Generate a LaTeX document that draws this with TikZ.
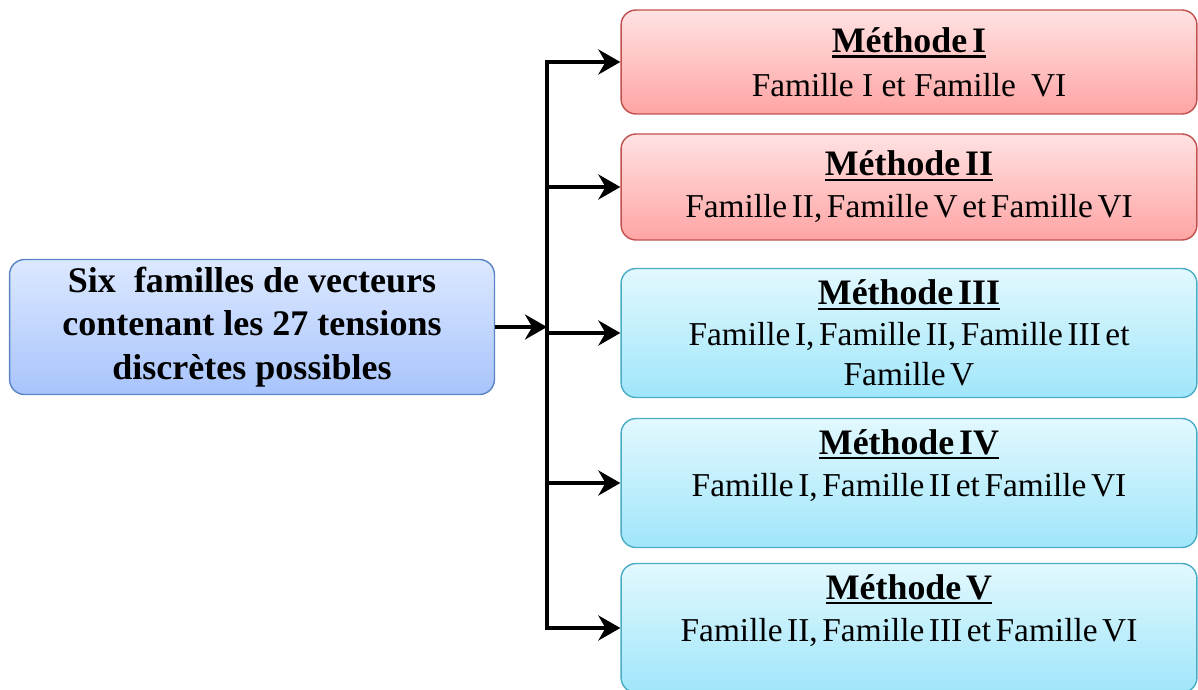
\documentclass[tikz,border=0pt]{standalone}
\usepackage{fontspec}
\setmainfont{Liberation Serif}
\newfontfamily\bodyfont{Liberation Serif}[WordSpace=0.55]
\usetikzlibrary{arrows.meta, arrows}

\definecolor{redtop}{HTML}{FFE2E2}
\definecolor{redbot}{HTML}{FFA4A4}
\definecolor{redline}{HTML}{C0504D}
\definecolor{cyantop}{HTML}{E2F8FE}
\definecolor{cyanbot}{HTML}{A0E6FA}
\definecolor{cyanline}{HTML}{4BACC6}
\definecolor{bluetop}{HTML}{DCE8FF}
\definecolor{bluebot}{HTML}{A8C4FC}
\definecolor{blueline}{HTML}{5B84C4}

\tikzset{
  box/.style={draw, rounded corners=0.3cm, align=center, line width=0.8pt, inner sep=2pt, font=\bodyfont\fontsize{19}{23}\selectfont},
  redbox/.style={box, draw=redline, top color=redtop, bottom color=redbot, minimum width=11.52cm},
  cyanbox/.style={box, draw=cyanline, top color=cyantop, bottom color=cyanbot, minimum width=11.52cm, minimum height=2.58cm},
  srcbox/.style={box, draw=blueline, top color=bluetop, bottom color=bluebot, minimum width=9.7cm, minimum height=2.7cm, font=\fontsize{20.5}{24.7}\selectfont\bfseries},
  link/.style={line width=2.3pt, -{Stealth[length=0.44cm, width=0.5cm]}}
}
\newcommand{\meth}[1]{{\fontsize{20.4}{23}\selectfont\bfseries\setbox0=\hbox{#1}\rlap{\rule[-3pt]{\wd0}{1.4pt}}\box0}}

\begin{document}
\begin{tikzpicture}[x=0.02cm, y=-0.02cm]
    \useasboundingbox (0,0) rectangle (1198,690);
    \node[srcbox] (src) at (252,327) {Six \ familles de vecteurs\\contenant les 27 tensions\\discrètes possibles};
    \node[redbox, minimum height=2.08cm] (m1) at (909,62) {\meth{Méthode I}\\[2pt]{\rmfamily Famille I et Famille \hspace{0.2em}VI}};
    \node[redbox, minimum height=2.12cm] (m2) at (909,187) {\meth{Méthode II}\\[1pt]Famille II, Famille V et Famille VI};
    \node[cyanbox] (m3) at (909,333) {\meth{Méthode III}\\Famille I, Famille II, Famille III et\\Famille V};
    \node[cyanbox] (m4) at (909,483) {\meth{Méthode IV}\\[1pt]Famille I, Famille II et Famille VI\\ \mbox{}};
    \node[cyanbox] (m5) at (909,628) {\meth{Méthode V}\\[1pt]Famille II, Famille III et Famille VI\\ \mbox{}};
    \coordinate (bus) at (547,0);
    \draw[line width=2.3pt, line cap=rect] (bus |- m1.west) -- (bus |- m5.west);
    \draw[link] (src.east) -- (bus |- src.east);
    \draw[link] (bus |- m1.west) -- (m1.west);
    \draw[link] (bus |- m2.west) -- (m2.west);
    \draw[link] (bus |- m3.west) -- (m3.west);
    \draw[link] (bus |- m4.west) -- (m4.west);
    \draw[link] (bus |- m5.west) -- (m5.west);
\end{tikzpicture}
\end{document}
